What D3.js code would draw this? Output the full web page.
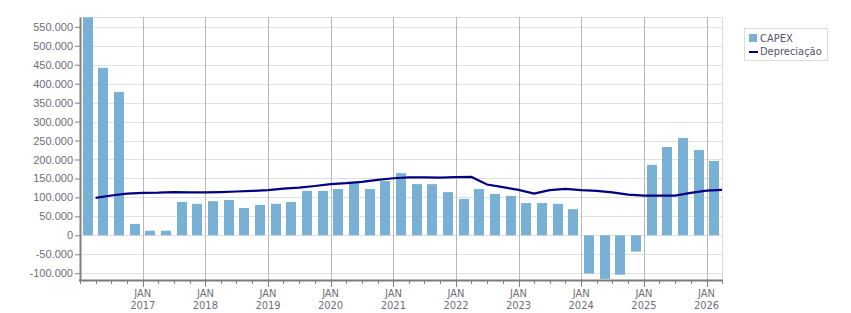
<!DOCTYPE html>
<html>
<head>
<meta charset="utf-8">
<script src="https://cdn.jsdelivr.net/npm/d3@7"></script>
<style>
  body { margin: 0; background: #fff; }
  svg { display: block; font-family: 'DejaVu Sans Condensed', 'Liberation Sans', sans-serif; }
</style>
</head>
<body>
<div id="chart"></div>
<script>
// quarterly CAPEX, Q1 2016 .. Q1 2026
const capex = [
  575000, 442000, 378000, 30000, 12000, 12000, 88000, 83000, 90000, 93000,
  72000, 80000, 83000, 88000, 117000, 117000, 122000, 138000, 122000, 143000,
  164000, 135000, 135000, 114000, 96000, 122000, 109000, 104000, 85000, 85000,
  83000, 69000, -101000, -115000, -104000, -43000, 186000, 233000, 257000, 225000,
  196000
]
// depreciation, value at the end of each quarter
const depreciacao = [
  98500, 105000, 110000, 112000, 112500, 114000, 113000, 113000, 114000, 115500,
  117000, 119000, 123000, 126000, 130000, 135000, 137500, 141000, 146000, 150500,
  153000, 153000, 152000, 153500, 154000, 134000, 127000, 120000, 110000, 119000,
  122500, 119000, 117000, 113000, 107500, 104500, 104500, 104500, 112000, 118000,
  120000
]
const yTicks = d3.range(-100000, 550001, 50000)
const seriesNames = ['CAPEX', 'Depreciação']

const start = new Date(2016, 0, 1)
const quarters = capex.map((v, i) => ({
  from: d3.timeMonth.offset(start, i * 3),
  to: d3.timeMonth.offset(start, i * 3 + 3),
  value: v
}))
const lineData = depreciacao.map((v, i) => ({
  date: d3.timeMonth.offset(start, i * 3 + 3),
  value: v
}))

const width = 851
const height = 313
const plot = { left: 80, right: 722, top: 17, bottom: 280 }

const locale = d3.formatLocale({ decimal: ',', thousands: '.', grouping: [3], currency: ['', ''], minus: '-' })
const fmt = locale.format(',d')

const svg = d3.select('#chart').append('svg')
  .attr('width', width)
  .attr('height', height)

const x = d3.scaleTime()
  .domain([start, new Date(2026, 3, 1)])
  .range([plot.left, plot.right])

const y = d3.scaleLinear()
  .domain([-118000, 576000])
  .range([plot.bottom, plot.top])

const years = d3.timeYear.range(new Date(2017, 0, 1), new Date(2026, 3, 1))
const quarterTicks = d3.timeMonth.every(3).range(start, new Date(2026, 3, 2))

// horizontal grid
svg.append('g')
  .selectAll('line')
  .data(yTicks)
  .join('line')
  .attr('x1', plot.left)
  .attr('x2', plot.right)
  .attr('y1', (d) => Math.round(y(d)) + 0.5)
  .attr('y2', (d) => Math.round(y(d)) + 0.5)
  .attr('stroke', '#e0e0e0')

// plot border top / right
svg.append('path')
  .attr('d', `M${plot.left},${plot.top + 0.5}H${plot.right + 0.5}V${plot.bottom}`)
  .attr('fill', 'none')
  .attr('stroke', '#dcdcdc')

// vertical grid at each january
svg.append('g')
  .selectAll('line')
  .data(years)
  .join('line')
  .attr('x1', (d) => Math.round(x(d)) + 0.5)
  .attr('x2', (d) => Math.round(x(d)) + 0.5)
  .attr('y1', plot.top)
  .attr('y2', plot.bottom)
  .attr('stroke', '#b8b8b8')

// bars
svg.append('clipPath').attr('id', 'clip')
  .append('rect')
  .attr('x', plot.left)
  .attr('y', plot.top)
  .attr('width', plot.right - plot.left)
  .attr('height', plot.bottom - plot.top)

const barWidth = 10
svg.append('g')
  .attr('clip-path', 'url(#clip)')
  .selectAll('rect')
  .data(quarters)
  .join('rect')
  .attr('x', (d) => Math.round((x(d.from) + x(d.to)) / 2 - barWidth / 2))
  .attr('width', barWidth)
  .attr('y', (d) => y(Math.max(0, d.value)))
  .attr('height', (d) => Math.abs(y(d.value) - y(0)))
  .attr('fill', '#79b1d4')

// depreciation line
const line = d3.line()
  .x((d) => x(d.date))
  .y((d) => y(d.value))

svg.append('path')
  .datum(lineData)
  .attr('d', line)
  .attr('fill', 'none')
  .attr('stroke', '#000080')
  .attr('stroke-width', 2.2)

// y axis
const yAxis = d3.axisLeft(y)
  .tickValues(yTicks)
  .tickFormat(fmt)
  .tickSize(5)
  .tickSizeOuter(0)

svg.append('g')
  .attr('transform', `translate(${plot.left}, 0)`)
  .call(yAxis)
  .call((g) => g.select('.domain').attr('stroke', '#808080').attr('stroke-width', 2))
  .call((g) => g.selectAll('.tick line').attr('stroke', '#808080'))
  .call((g) => g.selectAll('.tick text')
    .attr('fill', '#6e6e7a')
    .attr('font-size', 11)
    .attr('font-family', null)
    .attr('x', -7))

// x axis: quarterly minor ticks, january major ticks
const xg = svg.append('g')
  .attr('transform', `translate(0, ${plot.bottom})`)

xg.selectAll('.minor')
  .data(quarterTicks)
  .join('line')
  .attr('x1', (d) => Math.round(x(d)) + 0.5)
  .attr('x2', (d) => Math.round(x(d)) + 0.5)
  .attr('y1', 0)
  .attr('y2', 4)
  .attr('stroke', '#808080')

xg.selectAll('.major')
  .data(years)
  .join('line')
  .attr('x1', (d) => Math.round(x(d)) + 0.5)
  .attr('x2', (d) => Math.round(x(d)) + 0.5)
  .attr('y1', 0)
  .attr('y2', 7)
  .attr('stroke', '#808080')

xg.append('line')
  .attr('x1', plot.left - 1)
  .attr('x2', plot.right + 1)
  .attr('y1', 0.5)
  .attr('y2', 0.5)
  .attr('stroke', '#7a7a7a')
  .attr('stroke-width', 2)

const xLabels = xg.selectAll('.lbl')
  .data(years)
  .join('text')
  .attr('x', (d) => x(d))
  .attr('text-anchor', 'middle')
  .attr('font-size', 11)
  .attr('fill', '#6e6e7a')

xLabels.append('tspan').attr('x', (d) => x(d)).attr('y', 17).text('JAN')
xLabels.append('tspan').attr('x', (d) => x(d)).attr('y', 29).text((d) => d.getFullYear())

// legend
const legend = svg.append('g').attr('transform', 'translate(744, 28)')

legend.append('rect')
  .attr('x', 0.5)
  .attr('y', 0.5)
  .attr('width', 83)
  .attr('height', 32)
  .attr('fill', '#fff')
  .attr('stroke', '#dcdcdc')

legend.append('rect')
  .attr('x', 5)
  .attr('y', 6)
  .attr('width', 8)
  .attr('height', 8)
  .attr('fill', '#79b1d4')

legend.append('line')
  .attr('x1', 5)
  .attr('x2', 14)
  .attr('y1', 24)
  .attr('y2', 24)
  .attr('stroke', '#000080')
  .attr('stroke-width', 2)

legend.selectAll('text')
  .data(seriesNames)
  .join('text')
  .attr('x', 16)
  .attr('y', (d, i) => 14 + i * 13)
  .attr('font-size', 11)
  .attr('fill', '#55556a')
  .text((d) => d)
</script>
</body>
</html>
